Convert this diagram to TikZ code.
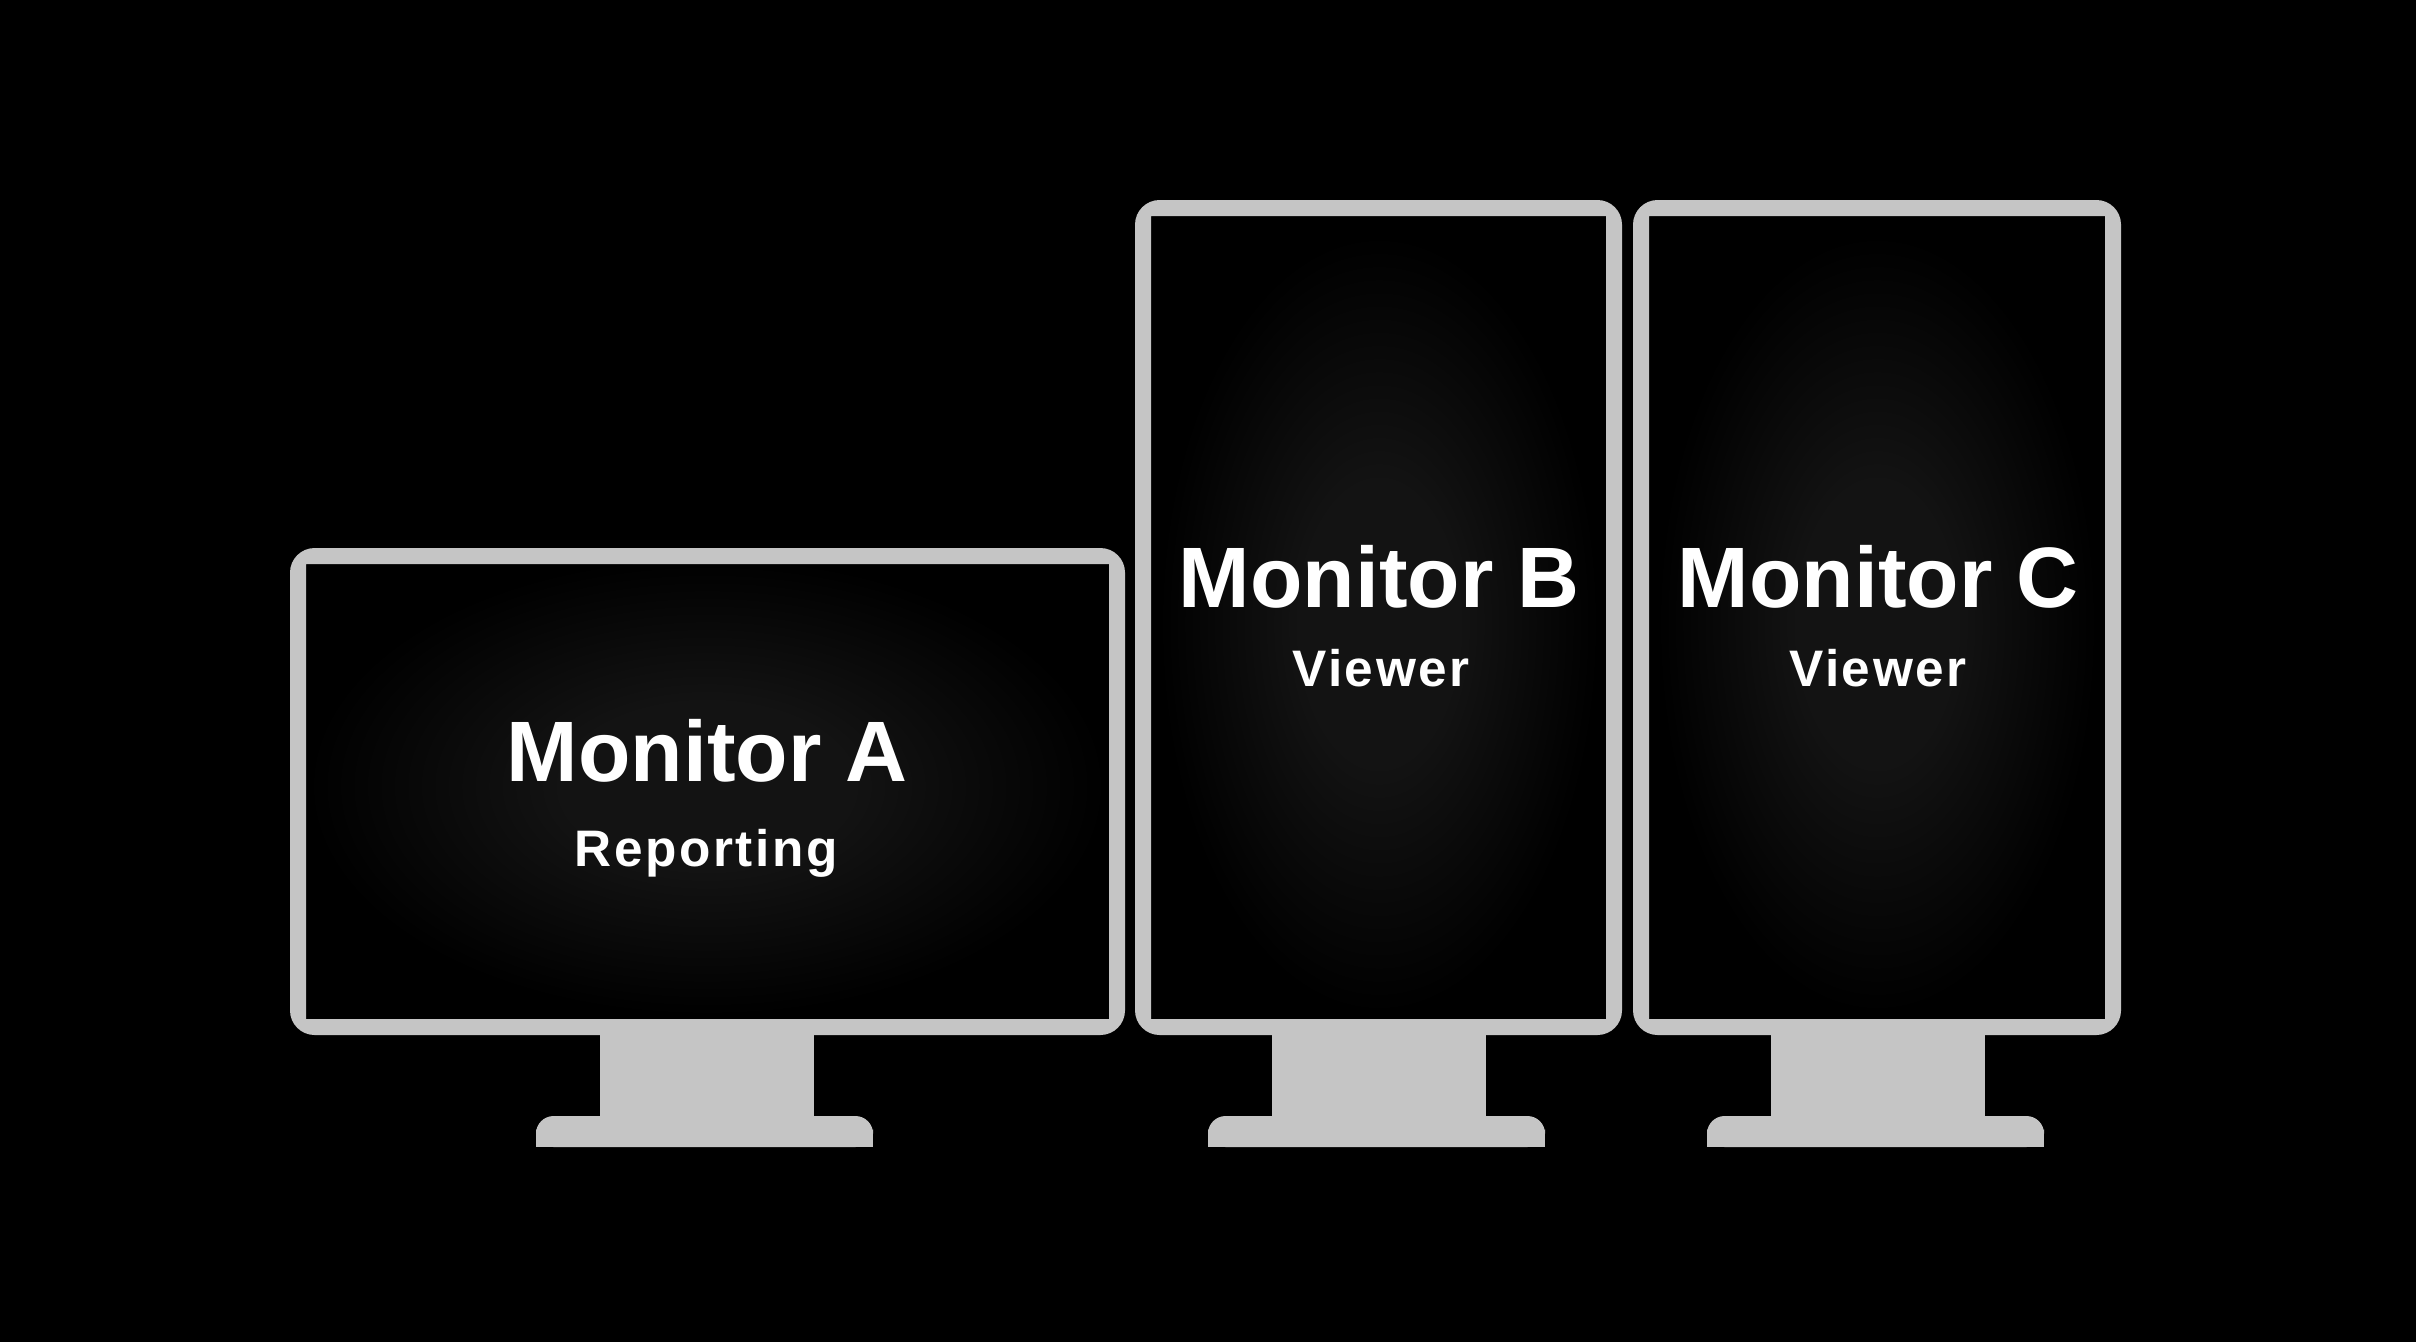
\documentclass[tikz,border=0pt]{standalone}
\usepackage{fontspec}
\setmainfont{Liberation Sans}
\newfontfamily\subfont[LetterSpace=5]{Liberation Sans}
\definecolor{framec}{RGB}{197,197,197}
\definecolor{glowc}{RGB}{19,19,19}
\pgfdeclareradialshading{screenglow}{\pgfpoint{0bp}{0bp}}{color(0bp)=(glowc); color(9bp)=(glowc); color(25bp)=(black); color(50bp)=(black)}
\tikzset{
  titletext/.style={text=white, inner sep=0pt, anchor=base, font=\bfseries\fontsize{24.4pt}{25pt}\selectfont},
  subtext/.style={text=white, inner sep=0pt, anchor=base, font=\subfont\bfseries\fontsize{14.6pt}{15pt}\selectfont},
  framefill/.style={fill=framec, even odd rule},
  standfill/.style={fill=framec}
}
\begin{document}
\begin{tikzpicture}[x=0.01cm,y=-0.01cm]
\fill[black] (0,0) rectangle (2416,1342);
\useasboundingbox (0,0) rectangle (2416,1342);

% glows
\begin{scope}
\clip (306,564) rectangle (1109,1019);
\shade[shading=screenglow] (707,786) ellipse (400 and 230);
\end{scope}
\begin{scope}
\clip (1151,216) rectangle (1606,1019);
\shade[shading=screenglow] (1379,624) ellipse (220 and 390);
\end{scope}
\begin{scope}
\clip (1649,216) rectangle (2105,1019);
\shade[shading=screenglow] (1877,624) ellipse (220 and 390);
\end{scope}

% Monitor A frame
\fill[framefill] [rounded corners=7] (290,548) rectangle (1125,1035)
  [sharp corners] (306,564) rectangle (1109,1019);
% Monitor B frame
\fill[framefill] [rounded corners=7] (1135,200) rectangle (1622,1035)
  [sharp corners] (1151,216) rectangle (1606,1019);
% Monitor C frame
\fill[framefill] [rounded corners=7] (1633,200) rectangle (2121,1035)
  [sharp corners] (1649,216) rectangle (2105,1019);

% stands
\fill[standfill] (600,1034) rectangle (814,1120);
\fill[standfill] [rounded corners=5] (536,1116) rectangle (873,1147);
\fill[standfill] (536,1132) rectangle (873,1147);
\fill[standfill] (1272,1034) rectangle (1486,1120);
\fill[standfill] [rounded corners=5] (1208,1116) rectangle (1545,1147);
\fill[standfill] (1208,1132) rectangle (1545,1147);
\fill[standfill] (1771,1034) rectangle (1985,1120);
\fill[standfill] [rounded corners=5] (1707,1116) rectangle (2044,1147);
\fill[standfill] (1707,1132) rectangle (2044,1147);

% labels
\node[titletext] (ta) at (707,781) {Monitor A};
\node[subtext] (sa) at (706,866) {Reporting};
\node[titletext] (tb) at (1379,607) {Monitor B};
\node[subtext] (sb) at (1381,686) {Viewer};
\node[titletext] (tc) at (1878,607) {Monitor C};
\node[subtext] (sc) at (1878,686) {Viewer};
\end{tikzpicture}
\end{document}
